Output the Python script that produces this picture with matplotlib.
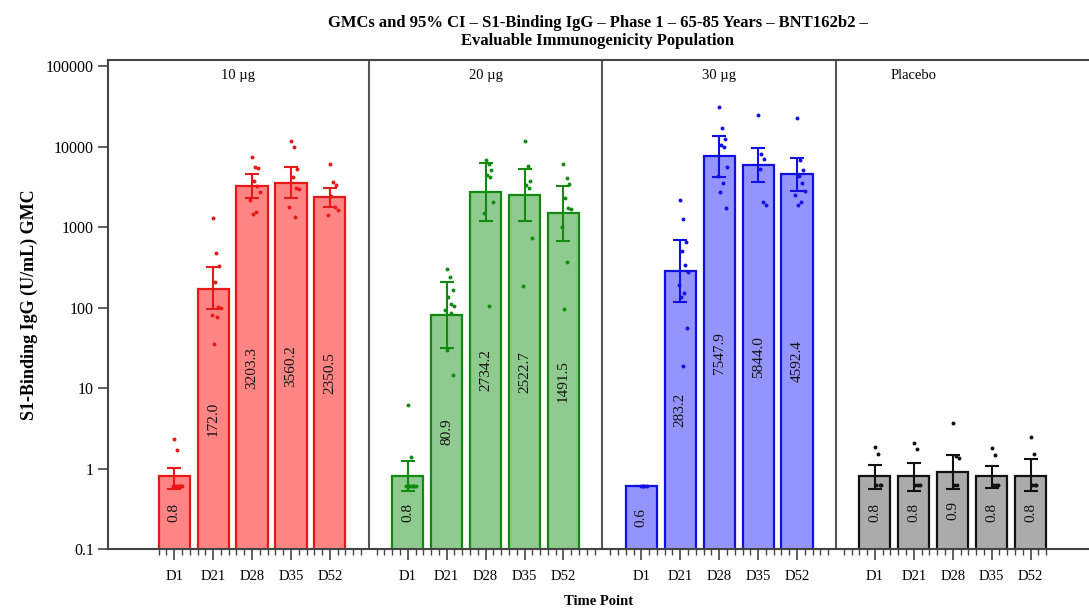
import numpy as np
import matplotlib.pyplot as plt
from matplotlib.ticker import FixedLocator

plt.rcParams['font.family'] = ['Liberation Serif', 'DejaVu Serif']

# Groups and time points
groups = ['10 µg', '20 µg', '30 µg', 'Placebo']
time_points = ['D1', 'D21', 'D28', 'D35', 'D52']

# GMCs with 95% CI (U/mL)
gmc_10 = [0.8, 172.0, 3203.3, 3560.2, 2350.5]
lo_10 = [0.56, 96, 2310, 2310, 1790]
hi_10 = [1.02, 321, 4520, 5620, 3080]

gmc_20 = [0.8, 80.9, 2734.2, 2522.7, 1491.5]
lo_20 = [0.52, 31.7, 1200, 1190, 676]
hi_20 = [1.25, 209, 6180, 5250, 3240]

gmc_30 = [0.6, 283.2, 7547.9, 5844.0, 4592.4]
lo_30 = [0.6, 116, 4140, 3590, 2830]
hi_30 = [0.6, 684, 13500, 9480, 7240]

gmc_pl = [0.8, 0.8, 0.9, 0.8, 0.8]
lo_pl = [0.55, 0.53, 0.56, 0.57, 0.53]
hi_pl = [1.10, 1.16, 1.47, 1.08, 1.30]

# Individual subject values
pts_10 = [
    [2.3, 1.7, 0.6, 0.6, 0.6, 0.6, 0.6, 0.6, 0.6, 0.6],
    [1310, 480, 330, 210, 102, 98, 81, 77, 35],
    [7460, 5520, 5400, 3760, 3230, 2760, 2160, 1540, 1450],
    [11700, 9770, 5290, 4140, 3020, 2950, 1790, 1340],
    [6010, 3660, 3300, 2430, 1790, 1630, 1410],
]
pts_20 = [
    [6.2, 1.4, 0.6, 0.6, 0.6, 0.6, 0.6, 0.6, 0.6, 0.6],
    [298, 241, 165, 136, 112, 103, 93, 85, 29.6, 14.5],
    [6790, 6030, 5100, 4430, 4220, 2030, 1480, 105],
    [11700, 5730, 3760, 3300, 3020, 725, 186],
    [6010, 4030, 3420, 2280, 1740, 1660, 1010, 370, 95],
]
pts_30 = [
    [0.6, 0.6, 0.6, 0.6],
    [2160, 1250, 656, 508, 337, 279, 190, 150, 134, 55, 18.9],
    [30700, 17100, 12300, 10400, 9770, 5520, 4340, 3490, 2760, 1710],
    [24600, 8000, 6920, 5250, 2060, 1870],
    [22400, 6790, 5100, 4300, 3550, 2830, 2500, 2060, 1870],
]
pts_pl = [
    [1.87, 1.51, 0.62, 0.62, 0.62],
    [2.09, 1.73, 0.62, 0.62, 0.62],
    [3.7, 1.43, 1.34, 0.62, 0.62],
    [1.81, 1.47, 0.62, 0.62, 0.62],
    [2.48, 1.5, 0.62, 0.62, 0.62],
]

gmcs = [gmc_10, gmc_20, gmc_30, gmc_pl]
los = [lo_10, lo_20, lo_30, lo_pl]
his = [hi_10, hi_20, hi_30, hi_pl]
pts = [pts_10, pts_20, pts_30, pts_pl]

fill_colors = ['#FF8585', '#8FCB8F', '#9494FF', '#ABABAB']
edge_colors = ['#E81818', '#128A12', '#1010E6', '#111111']
jitter = [0.0, 0.08, 0.15, 0.04, 0.12, 0.2, -0.04, 0.1, 0.02, 0.17, 0.06, 0.22]

fig = plt.figure(figsize=(10.89, 6.15), dpi=100)
ax = fig.add_axes([108 / 1089, 66 / 615, 981 / 1089, 489 / 615])
ax.set_yscale('log')

for g in range(len(groups)):
    x = np.arange(len(time_points)) + 6 * g
    gmc = np.array(gmcs[g])
    ax.bar(x, gmc - 0.05, bottom=0.05, width=0.8, color=fill_colors[g],
           edgecolor=edge_colors[g], linewidth=1.6, zorder=2)
    ax.errorbar(x, gmc, yerr=[gmc - np.array(los[g]), np.array(his[g]) - gmc],
                fmt='none', ecolor=edge_colors[g], elinewidth=1.5,
                capsize=5, capthick=1.5, zorder=3)
    for i, vals in enumerate(pts[g]):
        ax.scatter(x[i] + np.array(jitter[:len(vals)]), vals, s=8,
                   color=edge_colors[g], zorder=4, linewidths=0)
        ax.text(x[i], np.sqrt(0.1 * gmc[i]), '%.1f' % gmc[i], rotation=90,
                ha='center', va='center', fontsize=11, color='#111111', zorder=5)

# panel dividers and titles
for xd in [5, 11, 17]:
    ax.axvline(xd, color='#555555', linewidth=1.5, zorder=1)
for xc, name in zip([1.65, 8, 14, 19.0], groups):
    ax.text(xc, 10 ** 4.88, name, ha='center', va='center', fontsize=10.5)

ax.set_xlim(-1.7, 23.5)
ax.set_ylim(0.1, 10 ** 5.075)

xt = np.concatenate([np.arange(5) + 6 * g for g in range(4)])
ax.set_xticks(xt)
ax.set_xticklabels(time_points * 4)
minor = [m for m in np.arange(-0.4, 22.41, 0.2) if abs(m - round(m)) > 0.05]
ax.xaxis.set_minor_locator(FixedLocator(minor))
ax.yaxis.set_major_locator(FixedLocator([0.1, 1, 10, 100, 1000, 10000, 100000]))
ax.yaxis.set_minor_locator(FixedLocator([]))
ax.set_yticklabels(['0.1', '1', '10', '100', '1000', '10000', '100000'])
ax.tick_params(axis='both', which='major', labelsize=10.5, length=7, width=1.2,
               color='#444444', pad=3)
ax.tick_params(axis='y', which='major', labelsize=11.5)
ax.tick_params(axis='x', which='minor', length=4, width=1.0, color='#444444')
ax.tick_params(axis='x', which='major', length=8, pad=7)

for s in ['left', 'bottom', 'top']:
    ax.spines[s].set_color('#444444')
    ax.spines[s].set_linewidth(1.5)
ax.spines['right'].set_visible(False)

ax.set_ylabel('S1-Binding IgG (U/mL) GMC', fontsize=13, fontweight='bold', labelpad=6)
ax.set_xlabel('Time Point', fontsize=10.5, fontweight='bold', labelpad=9)
fig.text(0.549, 0.963, 'GMCs and 95% CI – S1-Binding IgG – Phase 1 – 65-85 Years – BNT162b2 –',
         ha='center', va='center', fontsize=12, fontweight='bold')
fig.text(0.549, 0.933, 'Evaluable Immunogenicity Population',
         ha='center', va='center', fontsize=12, fontweight='bold')

fig.savefig('out.png', dpi=100)
